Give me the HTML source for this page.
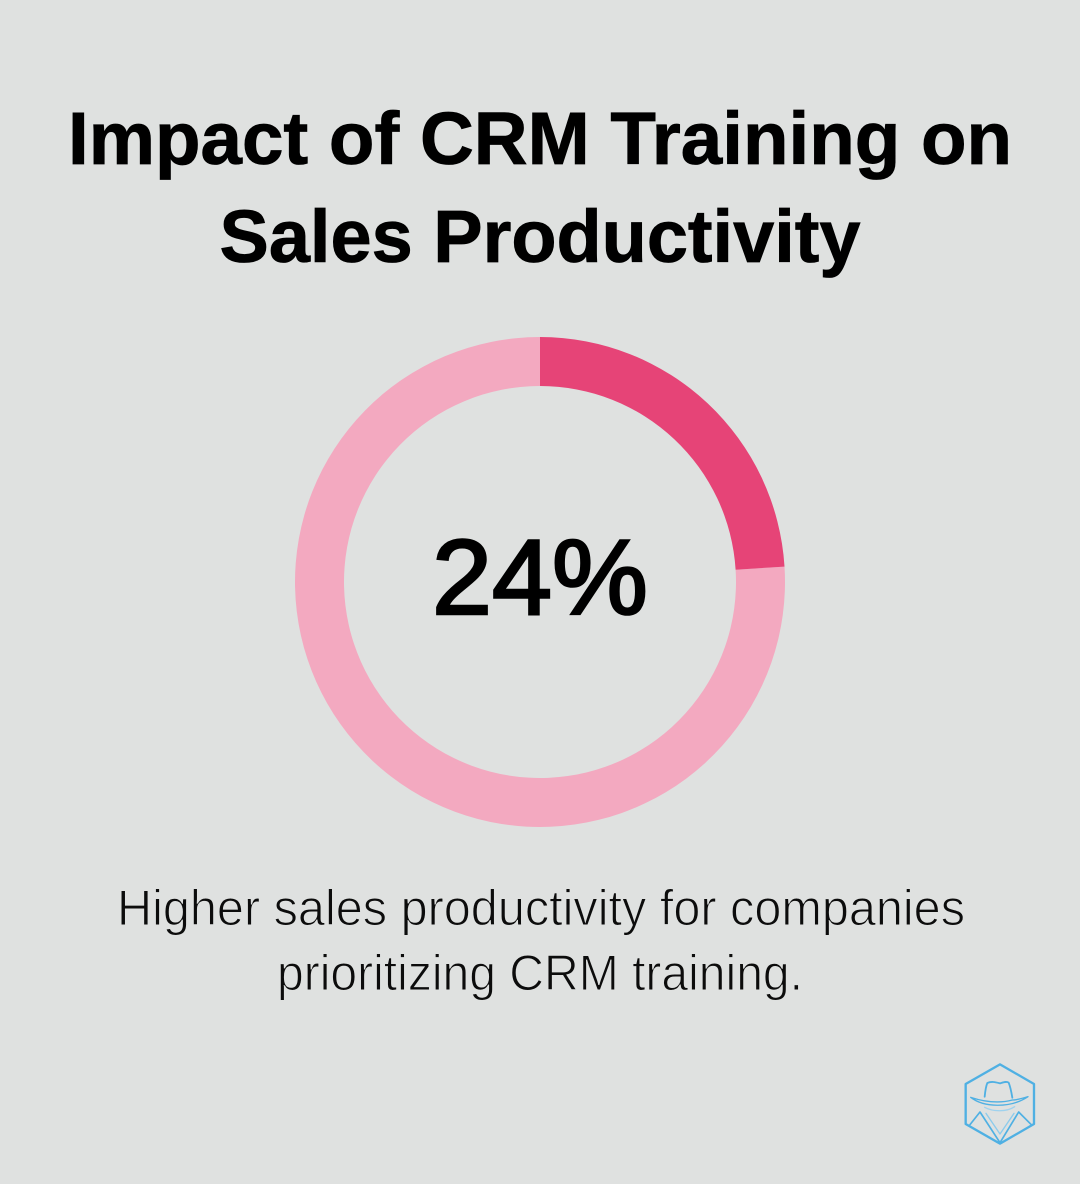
<!DOCTYPE html>
<html lang="en">
<head>
<meta charset="utf-8">
<title>Impact of CRM Training on Sales Productivity</title>
<style>
  html, body { margin: 0; padding: 0; background: #dfe1e0; }
  svg { display: block; }
  text { font-family: "Liberation Sans", "DejaVu Sans", sans-serif; text-anchor: middle; }
  .title { font-size: 74px; font-weight: 700; fill: #000; stroke: #000; stroke-width: 0.8px; }
  .desc { font-size: 50px; font-weight: 400; fill: #0c0c0c; stroke: #dfe1e0; stroke-width: 1.1px; }
  .center { font-size: 107px; font-weight: 400; fill: #000; stroke: #000; stroke-width: 2.6px; }
</style>
</head>
<body>
<svg id="chart" xmlns="http://www.w3.org/2000/svg" width="1080" height="1184" viewBox="0 0 1080 1184">
  <rect x="0" y="0" width="1080" height="1184" fill="#dfe1e0"/>
  <text class="title" x="540" y="164" textLength="944" lengthAdjust="spacingAndGlyphs">Impact of CRM Training on</text>
  <text class="title" x="540" y="262" textLength="641" lengthAdjust="spacingAndGlyphs">Sales Productivity</text>
  <g id="donut"></g>
  <text id="center-value" class="center" x="540" y="614" textLength="216" lengthAdjust="spacingAndGlyphs">24%</text>
  <text class="desc" x="541" y="925" textLength="848" lengthAdjust="spacingAndGlyphs">Higher sales productivity for companies</text>
  <text class="desc" x="540" y="990" textLength="526" lengthAdjust="spacingAndGlyphs">prioritizing CRM training.</text>
  <g transform="translate(950 1050) scale(0.33333)" fill="none" stroke="#4fb0e3" stroke-linejoin="round" stroke-linecap="round">
    <polygon points="150,43 252,102 252,222 150,281 47,222 47,102" stroke-width="7"/>
    <path d="M104,140 C106,120 108,108 112,99 C125,93 138,97 150,100 C160,97 170,93 176,98 C181,110 184,125 187,143" stroke-width="5.5"/>
    <path d="M62,142 C100,172 180,176 234,140 C215,146 200,150 187,150 C150,160 105,156 62,142 Z" stroke-width="4"/>
    <path d="M104,172 C130,186 170,186 194,170" stroke-width="4" stroke="#9fd2ee"/>
    <path d="M60,224 L90,186 L150,278 L206,186 L244,224" stroke-width="5"/>
    <path d="M108,190 L150,252 L192,190" stroke-width="4" stroke="#8ccbec"/>
  </g>
</svg>
<script>
const categories = ["Productivity gain", "Remainder"];
const seriesValues = [24, 76];
const sliceColors = ["#e64477", "#f3a9c0"];

const svgNS = "http://www.w3.org/2000/svg";
const cx = 540, cy = 582, outerR = 245, innerR = 196;
const total = seriesValues.reduce((a, b) => a + b, 0);

function angleOf(v) {
  return (v / total) * 2 * Math.PI;
}
function polar(r, a) {
  return [cx + r * Math.sin(a), cy - r * Math.cos(a)];
}
function arcPath(a0, a1) {
  const large = a1 - a0 > Math.PI ? 1 : 0;
  const p0 = polar(outerR, a0), p1 = polar(outerR, a1);
  const p2 = polar(innerR, a1), p3 = polar(innerR, a0);
  return "M" + p0[0] + " " + p0[1] +
    "A" + outerR + " " + outerR + " 0 " + large + " 1 " + p1[0] + " " + p1[1] +
    "L" + p2[0] + " " + p2[1] +
    "A" + innerR + " " + innerR + " 0 " + large + " 0 " + p3[0] + " " + p3[1] + "Z";
}

const donut = document.getElementById("donut");
let running = 0;
seriesValues.forEach(function (v, i) {
  const a0 = angleOf(running);
  const a1 = angleOf(running + v);
  running += v;
  const slice = document.createElementNS(svgNS, "path");
  slice.setAttribute("d", arcPath(a0, a1));
  slice.setAttribute("fill", sliceColors[i]);
  
  
  donut.insertBefore(slice, i === 0 ? null : donut.firstChild);
});

document.getElementById("center-value").textContent = seriesValues[0] + "%";
</script>
</body>
</html>
